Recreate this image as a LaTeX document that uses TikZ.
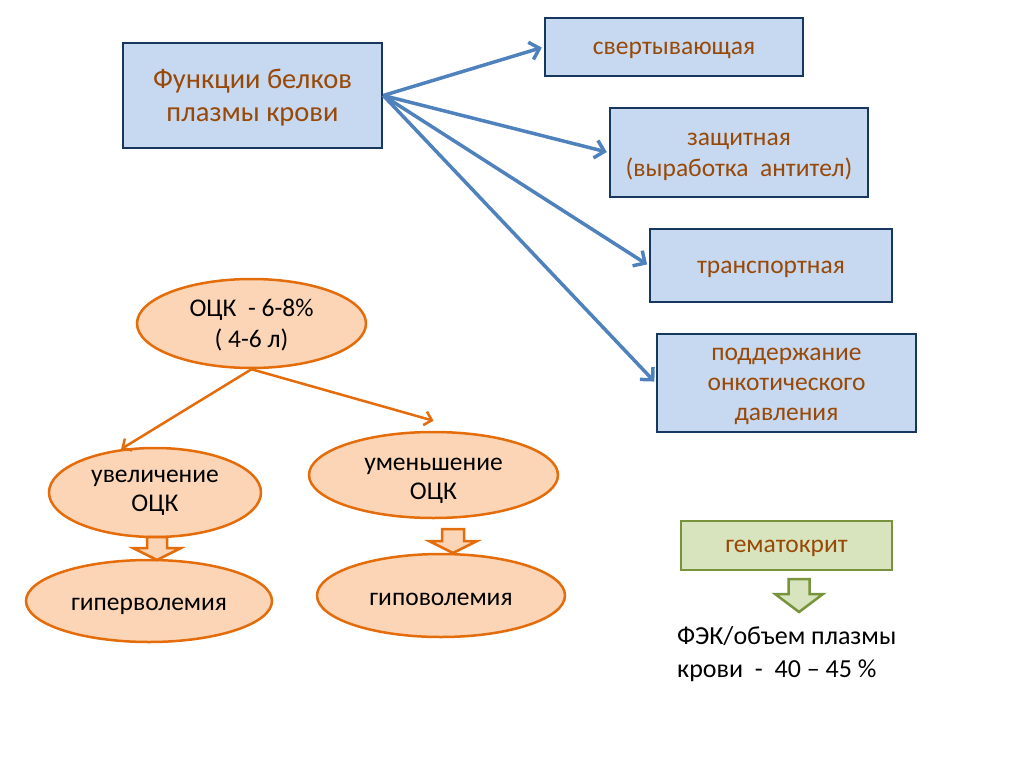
\documentclass[tikz,border=0pt]{standalone}
\usepackage{fontspec}
\setmainfont{Carlito}
\usetikzlibrary{arrows.meta}
\usetikzlibrary{calc}
\usetikzlibrary{positioning}
\usetikzlibrary{shapes.geometric}

\definecolor{boxfill}{RGB}{198,217,240}
\definecolor{boxline}{RGB}{23,55,94}
\definecolor{brown}{RGB}{152,72,7}
\definecolor{arrblue}{RGB}{79,129,189}
\definecolor{peach}{RGB}{251,213,181}
\definecolor{orange}{RGB}{228,108,10}
\definecolor{greenfill}{RGB}{215,228,189}
\definecolor{greenline}{RGB}{119,147,60}

\tikzset{
	funcbox/.style={draw=boxline, fill=boxfill, line width=2.5pt},
	boxtext/.style={text=brown, align=center, font=\fontsize{25.5}{31}\selectfont},
	oval/.style={ellipse, draw=orange, fill=peach, line width=2.5pt, inner sep=0pt},
	ovaltext/.style={align=center, font=\fontsize{25.5}{29}\selectfont},
	bluearrow/.style={draw=arrblue, line width=3.5pt, -{Straight Barb[length=9pt,width=18pt]}, shorten >=2pt},
	orangearrow/.style={draw=orange, line width=2.5pt, -{Straight Barb[length=7pt,width=14pt]}},
	pics/downblock/.style n args={4}{code={\path[pic actions] (-#1,0) -- (#1,0) -- (#1,#2) -- (#4,#2) -- (0,#3) -- (-#4,#2) -- (-#1,#2) -- cycle;}}
}

\begin{document}
\begin{tikzpicture}[x=1pt, y=-1pt]
		\useasboundingbox (0,0) rectangle (1024,767);
		\path 	(252.5,95.5)	node[funcbox, minimum width=259pt, minimum height=105pt, label={[boxtext, yshift=-2.5pt, font=\fontsize{28.5}{33}\selectfont]center:Функции белков\\плазмы крови}] (a) 	{}
			(674,47)	node[funcbox, minimum width=258pt, minimum height=58pt, label={[boxtext, yshift=-3.5pt]center:свертывающая}] (b)  	{}
			(739,152.5)	node[funcbox, minimum width=258pt, minimum height=89pt, label={[boxtext, yshift=-4pt]center:защитная\\(выработка~ антител)}] (c)  	{}
			(771,265.5)	node[funcbox, minimum width=242pt, minimum height=73pt, label={[boxtext, yshift=-4pt]center:транспортная}] (d)  	{}
			(786.5,383)	node[funcbox, minimum width=259pt, minimum height=98pt, label={[boxtext, yshift=-3.5pt, font=\fontsize{25.5}{30}\selectfont]center:поддержание\\онкотического\\давления}] (e)  	{};
		\draw[bluearrow] (a.east) -- (b.west);
		\draw[bluearrow] (a.east) -- (c.west);
		\draw[bluearrow] (a.east) -- (d.west);
		\draw[bluearrow] (a.east) -- (e.west);
		\path 	(251.5,323.5)	node[oval, minimum width=229pt, minimum height=89pt, label={[ovaltext, yshift=-1.5pt, font=\fontsize{25.5}{31}\selectfont]center:ОЦК~ - 6-8\%\\( 4-6 л)}] (ock) 	{}
			(155,492.5)	node[oval, minimum width=212pt, minimum height=89pt, label={[ovaltext]center:увеличение\\ОЦК}] (up) 	{}
			(433.5,475)	node[oval, minimum width=249pt, minimum height=86pt, label={[ovaltext, yshift=-6pt]center:уменьшение\\ОЦК}] (down) 	{}
			(149,601)	node[oval, minimum width=246pt, minimum height=82pt, label={[ovaltext, yshift=-5pt]center:гиперволемия}] (hyper) 	{}
			(441,595.5)	node[oval, minimum width=248pt, minimum height=83pt, label={[ovaltext, yshift=-3.5pt]center:гиповолемия}] (hypo) 	{};
		\draw[orangearrow] (ock.south) -- (up.128);
		\draw[orangearrow] (ock.south) -- ([yshift=10pt]down.north);
		\pic[draw=orange, fill=peach, line width=2.5pt] at (157,537) {downblock={10}{11}{23}{24}};
		\pic[draw=orange, fill=peach, line width=2.5pt] at (453,529) {downblock={11}{12}{24}{24}};
		\path 	(786.5,545.5)	node[funcbox, draw=greenline, fill=greenfill, minimum width=211pt, minimum height=49pt, label={[boxtext, yshift=-3pt]center:гематокрит}] (g) 	{};
		\pic[draw=greenline, fill=greenfill, line width=2.5pt] at (799,579) {downblock={10.5}{15}{33}{24}};
		\node[anchor=north west, align=left, inner sep=0pt, font=\fontsize{26}{33}\selectfont] (fek) at (677,626) {ФЭК/объем плазмы\\крови~ -~ 40 – 45 \%};
	\end{tikzpicture}
\end{document}
